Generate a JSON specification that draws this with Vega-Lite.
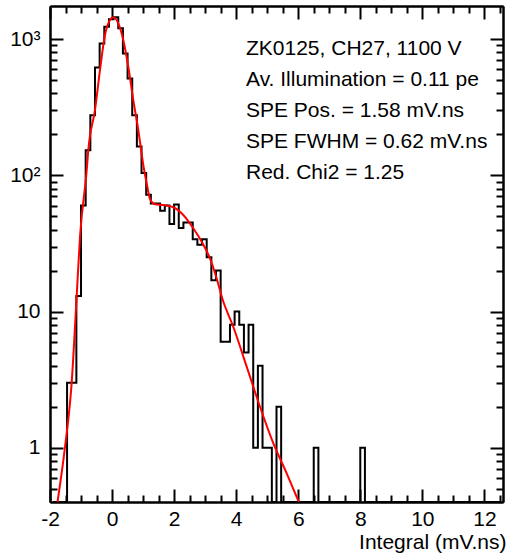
{
  "$schema": "https://vega.github.io/schema/vega-lite/v6.json",
  "width": 453,
  "height": 496,
  "autosize": {"type": "none"},
  "padding": {"left": 50, "top": 6, "right": 8, "bottom": 51},
  "background": "white",
  "config": {
    "view": {"stroke": null},
    "font": "Liberation Sans",
    "axis": {
      "grid": false,
      "domainColor": "black",
      "domainWidth": 2,
      "tickColor": "black",
      "tickWidth": 2,
      "labelColor": "black",
      "labelFont": "Liberation Sans",
      "labelFontSize": 21,
      "labelFlush": false,
      "labelOverlap": false,
      "titleFont": "Liberation Sans",
      "titleFontSize": 21,
      "titleFontWeight": "normal",
      "titleColor": "black"
    }
  },
  "datasets": {
    "hist": [
      {"x": -1.9, "count": 0}, {"x": -1.75, "count": 0}, {"x": -1.6, "count": 0},
      {"x": -1.45, "count": 3}, {"x": -1.3, "count": 3}, {"x": -1.15, "count": 13},
      {"x": -1.0, "count": 60}, {"x": -0.85, "count": 153}, {"x": -0.7, "count": 276},
      {"x": -0.55, "count": 620}, {"x": -0.4, "count": 930}, {"x": -0.25, "count": 1230},
      {"x": -0.1, "count": 1400}, {"x": 0.05, "count": 1450}, {"x": 0.2, "count": 1200},
      {"x": 0.35, "count": 785}, {"x": 0.5, "count": 514}, {"x": 0.65, "count": 276},
      {"x": 0.8, "count": 163}, {"x": 0.95, "count": 104}, {"x": 1.1, "count": 72},
      {"x": 1.25, "count": 62}, {"x": 1.4, "count": 62}, {"x": 1.55, "count": 55},
      {"x": 1.7, "count": 60}, {"x": 1.85, "count": 44}, {"x": 2.0, "count": 61},
      {"x": 2.15, "count": 41}, {"x": 2.3, "count": 45}, {"x": 2.45, "count": 45},
      {"x": 2.6, "count": 34}, {"x": 2.75, "count": 31}, {"x": 2.9, "count": 34},
      {"x": 3.05, "count": 25}, {"x": 3.2, "count": 17}, {"x": 3.35, "count": 20},
      {"x": 3.5, "count": 6}, {"x": 3.65, "count": 6}, {"x": 3.8, "count": 8},
      {"x": 3.95, "count": 10}, {"x": 4.1, "count": 8}, {"x": 4.25, "count": 5},
      {"x": 4.4, "count": 8}, {"x": 4.55, "count": 1}, {"x": 4.7, "count": 4},
      {"x": 4.85, "count": 1}, {"x": 5.0, "count": 1}, {"x": 5.15, "count": 0},
      {"x": 5.3, "count": 2}, {"x": 5.45, "count": 0}, {"x": 5.6, "count": 0},
      {"x": 5.75, "count": 0}, {"x": 5.9, "count": 0}, {"x": 6.05, "count": 0},
      {"x": 6.2, "count": 0}, {"x": 6.35, "count": 0}, {"x": 6.5, "count": 1},
      {"x": 6.65, "count": 0}, {"x": 6.8, "count": 0}, {"x": 6.95, "count": 0},
      {"x": 7.1, "count": 0}, {"x": 7.25, "count": 0}, {"x": 7.4, "count": 0},
      {"x": 7.55, "count": 0}, {"x": 7.7, "count": 0}, {"x": 7.85, "count": 0},
      {"x": 8.0, "count": 1}, {"x": 8.15, "count": 0}, {"x": 8.3, "count": 0},
      {"x": 8.45, "count": 0}, {"x": 8.6, "count": 0}, {"x": 8.75, "count": 0},
      {"x": 8.9, "count": 0}, {"x": 9.05, "count": 0}, {"x": 9.2, "count": 0},
      {"x": 9.35, "count": 0}, {"x": 9.5, "count": 0}, {"x": 9.65, "count": 0},
      {"x": 9.8, "count": 0}, {"x": 9.95, "count": 0}, {"x": 10.1, "count": 0},
      {"x": 10.25, "count": 0}, {"x": 10.4, "count": 0}, {"x": 10.55, "count": 0},
      {"x": 10.7, "count": 0}, {"x": 10.85, "count": 0}, {"x": 11.0, "count": 0},
      {"x": 11.15, "count": 0}, {"x": 11.3, "count": 0}, {"x": 11.45, "count": 0},
      {"x": 11.6, "count": 0}, {"x": 11.75, "count": 0}, {"x": 11.9, "count": 0},
      {"x": 12.05, "count": 0}, {"x": 12.2, "count": 0}, {"x": 12.35, "count": 0},
      {"x": 12.5, "count": 0}
    ],
    "fit": [
      {"x": -1.758, "fit": 0.4}, {"x": -1.517, "fit": 1.01},
      {"x": -1.301, "fit": 3.01}, {"x": -1.14, "fit": 13.0}, {"x": -1.033, "fit": 35.4},
      {"x": -0.817, "fit": 109}, {"x": -0.766, "fit": 153}, {"x": -0.55, "fit": 302},
      {"x": -0.389, "fit": 593}, {"x": -0.228, "fit": 1072}, {"x": -0.066, "fit": 1381},
      {"x": 0.04, "fit": 1446}, {"x": 0.201, "fit": 1306}, {"x": 0.362, "fit": 985},
      {"x": 0.523, "fit": 627}, {"x": 0.685, "fit": 357}, {"x": 0.846, "fit": 215},
      {"x": 1.013, "fit": 117}, {"x": 1.126, "fit": 84.9}, {"x": 1.223, "fit": 67.0},
      {"x": 1.384, "fit": 61.3}, {"x": 1.651, "fit": 60.5}, {"x": 1.974, "fit": 58.3},
      {"x": 2.296, "fit": 51.2}, {"x": 2.618, "fit": 40.9}, {"x": 2.889, "fit": 32.6},
      {"x": 3.156, "fit": 24.6}, {"x": 3.372, "fit": 17.5}, {"x": 3.566, "fit": 12.2},
      {"x": 3.907, "fit": 7.74}, {"x": 4.339, "fit": 3.94}, {"x": 4.768, "fit": 2.0},
      {"x": 5.196, "fit": 1.08}, {"x": 5.628, "fit": 0.65}, {"x": 6.02, "fit": 0.4}
    ]
  },
  "resolve": {"axis": {"x": "independent", "y": "independent"}},
  "layer": [
    {
      "data": {"name": "hist"},
      "mark": {"type": "line", "interpolate": "step-after", "color": "black", "strokeWidth": 2, "invalid": null, "clip": true},
      "encoding": {
        "x": {
          "field": "x", "type": "quantitative",
          "scale": {"domain": [-2, 12.6], "nice": false, "zero": false},
          "axis": {
            "orient": "bottom",
            "values": [-2, 0, 2, 4, 6, 8, 10, 12],
            "tickSize": -13,
            "labelPadding": 19,
            "labelExpr": "datum.value < 0 ? '-' + abs(datum.value) : '' + datum.value",
            "title": "Integral (mV.ns)",
            "titleAnchor": "end",
            "titleAlign": "right",
            "titleX": 456,
            "titleY": 46,
            "titleBaseline": "alphabetic"
          }
        },
        "y": {
          "field": "count", "type": "quantitative",
          "scale": {"type": "log", "domain": [0.4, 1750], "nice": false, "clamp": true},
          "axis": {
            "orient": "left",
            "values": [1, 10, 100, 1000],
            "tickSize": -13,
            "labelPadding": 23,
            "labelExpr": "datum.value == 1000 ? '10³' : datum.value == 100 ? '10²' : datum.value == 10 ? '10' : '1'",
            "title": null
          }
        }
      }
    },
    {
      "data": {"name": "fit"},
      "mark": {"type": "line", "interpolate": "monotone", "color": "#ff0000", "strokeWidth": 2, "clip": true},
      "encoding": {
        "x": {
          "field": "x", "type": "quantitative",
          "axis": {
            "orient": "bottom",
            "values": [-1.5, -1, -0.5, 0.5, 1, 1.5, 2.5, 3, 3.5, 4.5, 5, 5.5, 6.5, 7, 7.5, 8.5, 9, 9.5, 10.5, 11, 11.5, 12.5],
            "tickSize": -7,
            "labels": false,
            "title": null
          }
        },
        "y": {
          "field": "fit", "type": "quantitative",
          "axis": {
            "orient": "left",
            "values": [0.5, 0.6, 0.7, 0.8, 0.9, 2, 3, 4, 5, 6, 7, 8, 9, 20, 30, 40, 50, 60, 70, 80, 90, 200, 300, 400, 500, 600, 700, 800, 900],
            "tickSize": -7,
            "labels": false,
            "title": null
          }
        }
      }
    },
    {
      "data": {"values": [{"note": "stats"}]},
      "mark": {"type": "text", "align": "left", "baseline": "alphabetic", "fontSize": 21, "lineHeight": 31, "font": "Liberation Sans", "color": "black"},
      "encoding": {
        "x": {
          "datum": 4.317, "type": "quantitative",
          "axis": {
            "orient": "top",
            "values": [-2, 0, 2, 4, 6, 8, 10, 12],
            "tickSize": -13,
            "labels": false,
            "title": null
          }
        },
        "y": {
          "datum": 764, "type": "quantitative",
          "axis": {
            "orient": "right",
            "values": [1, 10, 100, 1000],
            "tickSize": -13,
            "labels": false,
            "title": null
          }
        },
        "text": {"value": ["ZK0125, CH27, 1100 V", "Av. Illumination = 0.11 pe", "SPE Pos. = 1.58 mV.ns", "SPE FWHM = 0.62 mV.ns", "Red. Chi2 = 1.25"]}
      }
    },
    {
      "data": {"name": "fit"},
      "mark": {"type": "line", "opacity": 0},
      "encoding": {
        "x": {
          "field": "x", "type": "quantitative",
          "axis": {
            "orient": "top",
            "values": [-1.5, -1, -0.5, 0.5, 1, 1.5, 2.5, 3, 3.5, 4.5, 5, 5.5, 6.5, 7, 7.5, 8.5, 9, 9.5, 10.5, 11, 11.5, 12.5],
            "tickSize": -7,
            "labels": false,
            "title": null
          }
        },
        "y": {
          "field": "fit", "type": "quantitative",
          "axis": {
            "orient": "right",
            "values": [0.5, 0.6, 0.7, 0.8, 0.9, 2, 3, 4, 5, 6, 7, 8, 9, 20, 30, 40, 50, 60, 70, 80, 90, 200, 300, 400, 500, 600, 700, 800, 900],
            "tickSize": -7,
            "labels": false,
            "title": null
          }
        }
      }
    }
  ]
}
